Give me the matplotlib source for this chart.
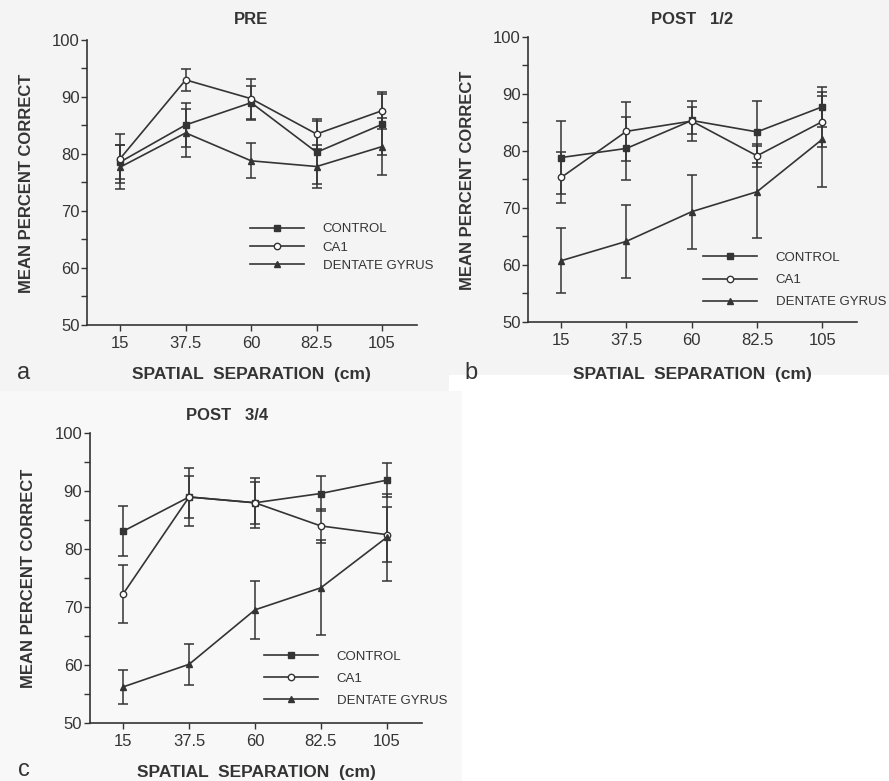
import matplotlib
matplotlib.use("Agg")
import matplotlib.pyplot as plt
from matplotlib.patches import Rectangle

plt.rcParams['font.family'] = ['Liberation Sans', 'DejaVu Sans']

INK = '#343434'

separation = [15, 37.5, 60, 82.5, 105]
group_names = ['CONTROL', 'CA1', 'DENTATE GYRUS']

# PRE
pre_control = [78.6, 85.1, 89.0, 80.3, 85.2]
pre_control_err = [3.0, 3.9, 3.0, 5.5, 5.3]
pre_ca1 = [79.2, 93.0, 89.7, 83.5, 87.6]
pre_ca1_err = [4.3, 1.9, 3.5, 2.7, 3.2]
pre_dentate = [77.7, 83.7, 78.8, 77.8, 81.3]
pre_dentate_err = [3.8, 4.2, 3.1, 3.8, 5.0]

# POST 1/2
p12_control = [78.8, 80.4, 85.3, 83.3, 87.7]
p12_control_err = [6.4, 5.5, 2.3, 5.4, 3.5]
p12_ca1 = [75.3, 83.4, 85.2, 79.1, 85.1]
p12_ca1_err = [4.5, 5.2, 3.5, 2.0, 4.5]
p12_dentate = [60.7, 64.1, 69.3, 72.8, 82.0]
p12_dentate_err = [5.7, 6.4, 6.5, 8.1, 8.3]

# POST 3/4
p34_control = [83.1, 89.0, 88.0, 89.6, 91.9]
p34_control_err = [4.3, 3.6, 3.6, 3.1, 2.9]
p34_ca1 = [72.3, 89.0, 88.0, 84.0, 82.5]
p34_ca1_err = [5.0, 5.0, 4.3, 3.0, 4.7]
p34_dentate = [56.2, 60.1, 69.5, 73.3, 82.0]
p34_dentate_err = [2.9, 3.5, 5.0, 8.2, 7.6]

styles = [
    dict(marker='s', markersize=4.2, markerfacecolor=INK),
    dict(marker='o', markersize=4.6, markerfacecolor='white'),
    dict(marker='^', markersize=4.4, markerfacecolor=INK),
]


def draw_panel(ax, series, legend_anchor, row_gap):
    for (values, errors), name, st in zip(series, group_names, styles):
        ax.errorbar(separation, values, yerr=errors, fmt='none', ecolor=INK,
                    elinewidth=1.1, capsize=3.5, capthick=1.1, zorder=2)
        ax.plot(separation, values, color=INK, linewidth=1.2, label=name,
                markeredgecolor=INK, markeredgewidth=1.0, zorder=3, **st)
    ax.set_xlim(3.6, 117)
    ax.set_ylim(50, 100)
    ax.set_xticks(separation)
    ax.set_xticklabels(['15', '37.5', '60', '82.5', '105'])
    ax.set_yticks(range(50, 101, 10))
    ax.set_yticks(range(55, 100, 10), minor=True)
    for side in ('top', 'right'):
        ax.spines[side].set_visible(False)
    for side in ('left', 'bottom'):
        ax.spines[side].set_linewidth(1.2)
        ax.spines[side].set_color(INK)
    ax.tick_params(axis='both', which='both', direction='out', length=4,
                   width=1.0, color=INK, labelcolor=INK, labelsize=12)
    ax.tick_params(axis='x', pad=4)
    ax.tick_params(axis='y', pad=1.5)
    ax.set_facecolor('none')
    leg = ax.legend(loc='upper left', bbox_to_anchor=legend_anchor, frameon=False,
                    fontsize=9.5, handlelength=4.1, handletextpad=1.4,
                    labelspacing=row_gap, borderpad=0, borderaxespad=0, numpoints=1)
    for t in leg.get_texts():
        t.set_color(INK)


fig = plt.figure(figsize=(8.89, 7.81), dpi=100)
fig.patch.set_facecolor('white')
fig.patches.append(Rectangle((0.0, 0.5), 0.505, 0.5, transform=fig.transFigure,
                             facecolor='#f4f4f4', edgecolor='none', zorder=-5))
fig.patches.append(Rectangle((0.505, 0.52), 0.495, 0.48, transform=fig.transFigure,
                             facecolor='#f4f4f4', edgecolor='none', zorder=-5))
fig.patches.append(Rectangle((0.0, 0.0), 0.52, 0.5, transform=fig.transFigure,
                             facecolor='#f8f8f8', edgecolor='none', zorder=-5))

ax_a = fig.add_axes([0.0979, 0.5839, 0.3712, 0.3649])
ax_b = fig.add_axes([0.5940, 0.5881, 0.3701, 0.3649])
ax_c = fig.add_axes([0.1012, 0.0746, 0.3731, 0.3706])

draw_panel(ax_a, [(pre_control, pre_control_err), (pre_ca1, pre_ca1_err),
                  (pre_dentate, pre_dentate_err)], (0.494, 0.357), 0.45)
draw_panel(ax_b, [(p12_control, p12_control_err), (p12_ca1, p12_ca1_err),
                  (p12_dentate, p12_dentate_err)], (0.532, 0.245), 0.75)
draw_panel(ax_c, [(p34_control, p34_control_err), (p34_ca1, p34_ca1_err),
                  (p34_dentate, p34_dentate_err)], (0.525, 0.250), 0.75)

W, H = 889, 781


def ftext(x, y, s, **kw):
    fig.text(x / W, 1 - y / H, s, ha='center', va='center', color=INK, **kw)


ftext(251, 20, 'PRE', fontsize=12, fontweight='bold')
ftext(692, 20, 'POST   1/2', fontsize=12, fontweight='bold')
ftext(227, 415, 'POST   3/4', fontsize=12, fontweight='bold')

ftext(251, 375, 'SPATIAL  SEPARATION  (cm)', fontsize=12.5, fontweight='bold')
ftext(692, 375, 'SPATIAL  SEPARATION  (cm)', fontsize=12.5, fontweight='bold')
ftext(256, 772, 'SPATIAL  SEPARATION  (cm)', fontsize=12.5, fontweight='bold')

ftext(27, 183, 'MEAN PERCENT CORRECT', fontsize=12, fontweight='bold', rotation=90)
ftext(467, 180, 'MEAN PERCENT CORRECT', fontsize=12, fontweight='bold', rotation=90)
ftext(29, 578, 'MEAN PERCENT CORRECT', fontsize=12, fontweight='bold', rotation=90)

ftext(24, 373, 'a', fontsize=17)
ftext(471, 373, 'b', fontsize=17)
ftext(24, 770, 'c', fontsize=17)

fig.savefig('out.png', dpi=100, facecolor=fig.get_facecolor())
